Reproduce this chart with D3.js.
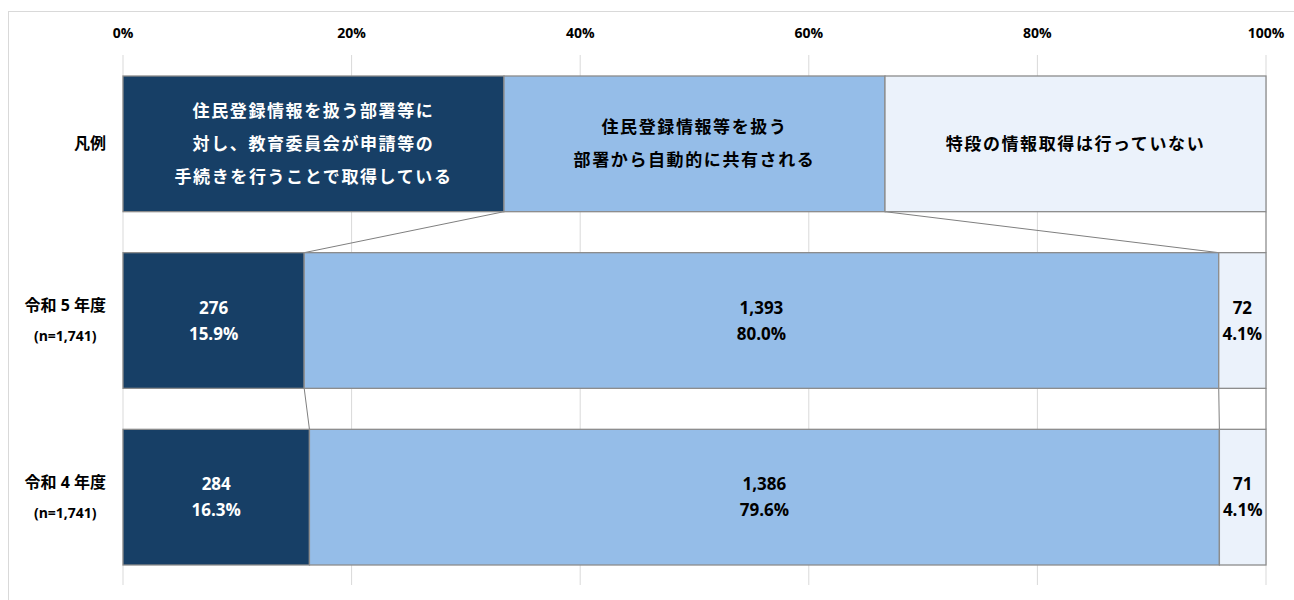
<!DOCTYPE html>
<html>
<head>
<meta charset="utf-8">
<script src="https://cdn.jsdelivr.net/npm/d3@7"></script>
<style>
  body { margin: 0; background: #fff; }
  svg text { font-family: "Open Sans", "Noto Sans CJK JP", sans-serif; font-weight: bold; }
</style>
</head>
<body>
<svg id="chart" width="1294" height="600"></svg>
<script>
// données
var rows = ["凡例", "令和５年度", "令和４年度"];
var rowLabels = [["凡例"], ["令和 5 年度", "(n=1,741)"], ["令和 4 年度", "(n=1,741)"]];
var seriesNames = [
  ["住民登録情報を扱う部署等に", "対し、教育委員会が申請等の", "手続きを行うことで取得している"],
  ["住民登録情報等を扱う", "部署から自動的に共有される"],
  ["特段の情報取得は行っていない"]
];
var counts5 = [276, 1393, 72];
var counts4 = [284, 1386, 71];
var pct5 = [15.9, 80.0, 4.1];
var pct4 = [16.3, 79.6, 4.1];
var ticks = [0, 0.2, 0.4, 0.6, 0.8, 1];
var colors = ["#173f66", "#95bde8", "#ebf2fb"];
var textColors = ["#fff", "#000", "#000"];

var svg = d3.select("#chart");

// cadre extérieur
svg.append("rect").attr("x", 8.5).attr("y", 11.5).attr("width", 1300).attr("height", 620)
   .style("fill", "none").style("stroke", "#d9d9d9");

var x = d3.scaleLinear().domain([0, 1]).range([123, 1266]);
var y = d3.scaleBand().domain(rows).range([76, 565]).paddingInner(0.232).paddingOuter(0);

// grille
svg.append("g").selectAll("line").data(ticks).enter().append("line")
   .attr("x1", d => x(d)).attr("x2", d => x(d))
   .attr("y1", 55).attr("y2", 585)
   .style("stroke", "#d9d9d9").style("stroke-width", 1);

// axe du haut
svg.append("g").selectAll("text").data(ticks).enter().append("text")
   .attr("x", d => x(d)).attr("y", 38)
   .attr("text-anchor", "middle")
   .style("font-size", "14px")
   .text(d => d3.format(".0%")(d));

// construction des segments
function stackRow(vals) {
  var total = d3.sum(vals), acc = 0;
  return vals.map(function(v, i) {
    var s = { i: i, x0: acc, x1: acc + v / total, v: v };
    acc += v / total;
    return s;
  });
}
var legendSegs = [0, 1, 2].map(i => ({ i: i, x0: i / 3, x1: (i + 1) / 3 }));
var seg5 = stackRow(counts5).map((d, i) => Object.assign(d, { p: pct5[i] }));
var seg4 = stackRow(counts4).map((d, i) => Object.assign(d, { p: pct4[i] }));
var allRows = [legendSegs, seg5, seg4];

// lignes de liaison
for (var r = 0; r < 2; r++) {
  var a = allRows[r], b = allRows[r + 1];
  for (var k = 0; k < 3; k++) {
    svg.append("line")
       .attr("x1", x(a[k].x1)).attr("y1", y(rows[r]) + y.bandwidth())
       .attr("x2", x(b[k].x1)).attr("y2", y(rows[r + 1]))
       .style("stroke", "#7f7f7f").style("stroke-width", 1);
  }
}

// barres
allRows.forEach(function(segs, r) {
  var g = svg.append("g");
  var y0 = y(rows[r]), h = y.bandwidth();
  g.selectAll("rect").data(segs).enter().append("rect")
   .attr("x", d => x(d.x0)).attr("y", y0)
   .attr("width", d => x(d.x1) - x(d.x0)).attr("height", h)
   .style("fill", d => colors[d.i])
   .style("stroke", "#8c8c8c").style("stroke-width", 1.3);

  segs.forEach(function(d) {
    var cx = (x(d.x0) + x(d.x1)) / 2, cy = y0 + h / 2;
    var lines, fs, lh, ls;
    if (r === 0) {
      lines = seriesNames[d.i]; fs = 17; lh = 33; ls = "1.6px";
    } else {
      lines = [d3.format(",")(d.v), d.p.toFixed(1) + "%"]; fs = 17; lh = 26; ls = "0px";
    }
    var t = g.append("text").attr("text-anchor", "middle")
      .style("fill", textColors[d.i]).style("font-size", fs + "px").style("letter-spacing", ls);
    lines.forEach(function(l, j) {
      t.append("tspan").attr("x", cx)
       .attr("y", cy + (j - (lines.length - 1) / 2) * lh + fs * 0.36)
       .text(l);
    });
  });

  // libellé de ligne
  var lab = rowLabels[r];
  var lt = svg.append("text").attr("text-anchor", "middle");
  var spans = lab.map(function(l, j) {
    return lt.append("tspan")
      .attr("y", y0 + h / 2 + (j - (lab.length - 1) / 2) * 30 + 5.5)
      .style("font-size", j === 0 ? "16px" : "14px")
      .text(l);
  });
  var w = d3.max(spans, s => s.node().getComputedTextLength());
  spans.forEach(s => s.attr("x", 106 - w / 2));
});
</script>
</body>
</html>
